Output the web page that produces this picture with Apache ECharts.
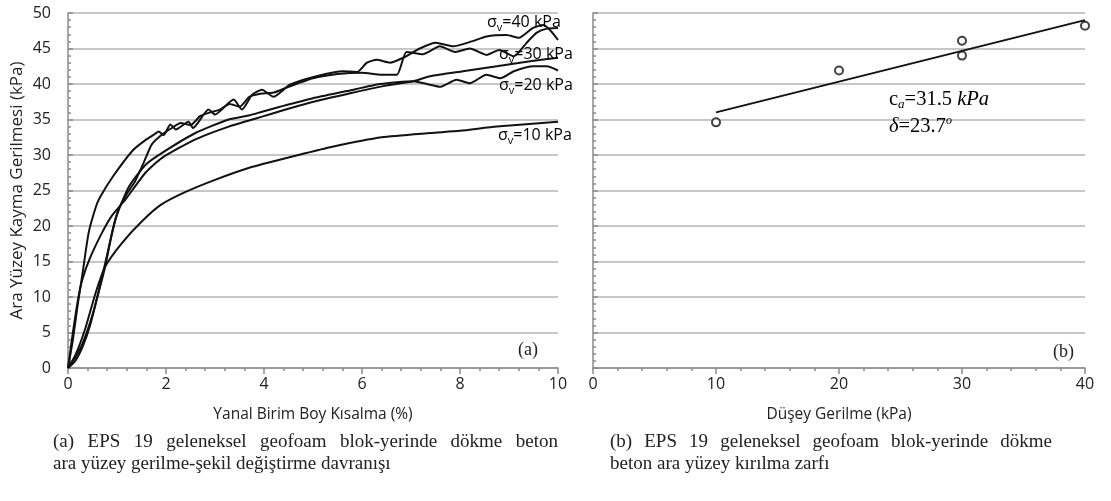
<!DOCTYPE html>
<html><head><meta charset="utf-8">
<script src="https://cdn.jsdelivr.net/npm/echarts@6/dist/echarts.min.js"></script>
<style>html,body{margin:0;padding:0;background:#fff}#c{width:1111px;height:501px}</style>
</head><body><div id="c"></div>
<script>
// ---- data ----
// (a) shear stress (kPa) vs lateral strain (%)
const curve10 = [[0,0],[0.15,1.8],[0.35,5.5],[0.56,10.5],[0.76,14.3],[1.1,17.6],[1.5,20.6],[1.9,23],[2.4,24.8],[3,26.5],[3.7,28.2],[4.3,29.3],[4.7,30],[5.35,31.1],[6.4,32.5],[7.4,33.1],[8,33.4],[8.75,34],[10,34.7]];
const curve20 = [[0,0],[0.15,1.5],[0.3,3.5],[0.5,7.5],[0.65,11.5],[0.8,16],[0.97,21],[1.24,25.5],[1.58,28.6],[1.92,30.3],[2.6,33.1],[3.28,35.0],[3.71,35.6],[3.96,36.1],[4.33,36.8],[5.0,38.0],[5.69,39.0],[6.37,40.0],[7.05,40.4],[7.39,39.9],[7.59,39.6],[7.93,40.6],[8.2,40.1],[8.54,41.3],[8.82,40.8],[9.1,41.8],[9.5,42.5],[9.77,42.5],[10,41.9]];
const curve30a = [[0,0],[0.1,5],[0.2,9.5],[0.29,12.4],[0.45,15.5],[0.69,19],[0.9,21.5],[1.17,23.7],[1.58,27.5],[1.92,29.6],[2.6,32.2],[3.28,34.0],[3.71,34.9],[3.96,35.4],[4.39,36.3],[5.07,37.6],[5.76,38.7],[6.43,39.7],[7.05,40.4],[7.39,41.1],[8.06,41.8],[8.75,42.5],[9.43,43.2],[10,43.7]];
const curve30b = [[0,0],[0.15,1],[0.3,3],[0.45,6],[0.6,10],[0.75,14],[0.9,19],[1.03,22.3],[1.2,24.5],[1.37,26.3],[1.55,29],[1.71,31.5],[1.92,32.9],[2.12,33.8],[2.3,34.5],[2.5,34.2],[2.7,35.5],[2.9,36.0],[3.1,36.4],[3.3,37.2],[3.5,36.8],[3.7,38.2],[3.9,38.6],[4.2,38.8],[4.5,39.6],[5.0,40.8],[5.5,41.4],[6.0,41.6],[6.4,41.3],[6.71,41.3],[6.91,44.5],[7.25,44.2],[7.59,45.3],[7.9,44.5],[8.2,45.0],[8.54,44.1],[8.8,44.8],[9.1,43.9],[9.36,45.8],[9.56,47.2],[9.77,47.8],[10,47.9]];
const curve40 = [[0,0],[0.1,4],[0.2,9],[0.29,13],[0.42,19],[0.56,22.5],[0.65,24],[0.92,27],[1.33,30.7],[1.6,32.2],[1.78,33],[1.85,33.3],[1.95,32.8],[2.09,34.3],[2.2,33.6],[2.46,34.7],[2.55,33.8],[2.87,36.4],[3.0,35.7],[3.38,37.8],[3.55,36.4],[3.76,38.5],[3.96,39.2],[4.19,38.2],[4.53,39.9],[5.07,41.1],[5.62,41.8],[5.9,41.7],[6.1,43.0],[6.3,43.4],[6.57,43.0],[6.84,43.7],[7.18,45.0],[7.5,45.8],[7.86,45.3],[8.24,46.0],[8.54,46.7],[8.95,46.9],[9.2,46.5],[9.49,47.9],[9.7,48.3],[9.85,47.5],[10,46.2]];
// (b) failure envelope
const envStress = [10, 20, 30, 30, 40];
const envShear  = [34.6, 41.9, 44.0, 46.1, 48.2];
const fitLine = [[10, 36.0], [40, 49.0]];
const curveLabels = ['σv=40 kPa','σv=30 kPa','σv=20 kPa','σv=10 kPa'];
const captionA = ['(a) EPS 19 geleneksel geofoam blok-yerinde dökme beton', 'ara yüzey gerilme-şekil değiştirme davranışı'];
const captionB = ['(b) EPS 19 geleneksel geofoam blok-yerinde dökme', 'beton ara yüzey kırılma zarfı'];

const SANS = 'Open Sans';
const SERIF = 'Liberation Serif';
const CAP_SIZE = 19;
const chart = echarts.init(document.getElementById('c'), null, {renderer:'canvas'});

const lineSeries = (d) => ({type:'line', xAxisIndex:0, yAxisIndex:0, data:d, showSymbol:false, smooth:0.2,
  lineStyle:{color:'#111', width:2}, silent:true});

const axisCommon = {
  axisLine:{show:true, lineStyle:{color:'#8a8a8a', width:1.5}},
  axisLabel:{color:'#222', fontFamily:SANS, fontSize:16},
  nameTextStyle:{color:'#222', fontFamily:SANS, fontSize:15.5}
};

function sig(str){ return '{s|σ}{v|v}{s|' + str.slice(2) + '}'; }
const sigRich = {
  s:{fontFamily:SANS, fontSize:16, color:'#222', lineHeight:22, verticalAlign:'middle'},
  v:{fontFamily:SANS, fontSize:11, color:'#222', lineHeight:12, verticalAlign:'bottom'}
};
const labelPos = [[487,14],[499,46],[499,77],[498,127]];

// justified caption lines
const mctx = document.createElement('canvas').getContext('2d');
mctx.font = CAP_SIZE + 'px "' + SERIF + '"';
function justified(text, x0, x1, top){
  const words = text.split(' ');
  const widths = words.map(w => mctx.measureText(w).width);
  const total = widths.reduce((a,b)=>a+b,0);
  const gap = (x1 - x0 - total) / (words.length - 1);
  let x = x0; const out = [];
  words.forEach((w,i)=>{ out.push({type:'text', left:x, top:top, style:{text:w, fontFamily:SERIF, fontSize:CAP_SIZE, fill:'#222'}}); x += widths[i] + gap; });
  return out;
}
function plain(text, x0, top){
  return {type:'text', left:x0, top:top, style:{text:text, fontFamily:SERIF, fontSize:CAP_SIZE, fill:'#222'}};
}

chart.setOption({
  animation:false,
  grid:[
    {left:68, right:553, top:13, bottom:133},
    {left:593, right:26, top:13, bottom:133}
  ],
  xAxis:[
    Object.assign({}, axisCommon, {type:'value', gridIndex:0, min:0, max:10, interval:2,
      splitLine:{show:false},
      axisTick:{length:6, lineStyle:{color:'#8a8a8a', width:1.5}},
      minorTick:{show:true, splitNumber:5, length:3, lineStyle:{color:'#8a8a8a', width:1.5}},
      axisLabel:Object.assign({}, axisCommon.axisLabel, {margin:8}),
      name:'Yanal Birim Boy Kısalma (%)', nameLocation:'middle', nameGap:39}),
    Object.assign({}, axisCommon, {type:'value', gridIndex:1, min:0, max:40, interval:10,
      splitLine:{show:false},
      axisTick:{length:6, lineStyle:{color:'#8a8a8a', width:1.5}},
      minorTick:{show:true, splitNumber:5, length:3, lineStyle:{color:'#8a8a8a', width:1.5}},
      axisLabel:Object.assign({}, axisCommon.axisLabel, {margin:8}),
      name:'Düşey Gerilme (kPa)', nameLocation:'middle', nameGap:39})
  ],
  yAxis:[
    Object.assign({}, axisCommon, {type:'value', gridIndex:0, min:0, max:50, interval:5,
      splitLine:{show:true, lineStyle:{color:'#b4b4b4', width:1.5}},
      axisTick:{inside:true, length:5, lineStyle:{color:'#8a8a8a', width:1.5}},
      minorTick:{show:true, splitNumber:5, length:3, lineStyle:{color:'#8a8a8a', width:1.5}},
      axisLabel:Object.assign({}, axisCommon.axisLabel, {margin:17}),
      name:'Ara Yüzey Kayma Gerilmesi (kPa)', nameLocation:'middle', nameGap:42, nameRotate:90,
      nameTextStyle:{color:'#222', fontFamily:SANS, fontSize:17}}),
    Object.assign({}, axisCommon, {type:'value', gridIndex:1, min:0, max:50, interval:5,
      splitLine:{show:true, lineStyle:{color:'#b4b4b4', width:1.5}},
      axisTick:{inside:true, length:5, lineStyle:{color:'#8a8a8a', width:1.5}},
      minorTick:{show:true, splitNumber:5, length:3, lineStyle:{color:'#8a8a8a', width:1.5}},
      axisLabel:{show:false}})
  ],
  series:[
    lineSeries(curve10), lineSeries(curve20), lineSeries(curve30a), lineSeries(curve30b), lineSeries(curve40),
    {type:'line', xAxisIndex:1, yAxisIndex:1, data:fitLine, showSymbol:false, lineStyle:{color:'#111', width:2}, silent:true},
    {type:'scatter', xAxisIndex:1, yAxisIndex:1, data:envStress.map((s,i)=>[s, envShear[i]]),
      symbol:'circle', symbolSize:8, itemStyle:{color:'#fff', borderColor:'#111', borderWidth:2}, silent:true}
  ],
  graphic:[
    ...curveLabels.map((t,i)=>({type:'text', left:labelPos[i][0], top:labelPos[i][1], z:100,
      style:{text:sig(t), rich:sigRich}})),
    {type:'text', left:889, top:89, z:100, style:{text:'{c|c}{a|a}{c|=31.5 }{i|kPa}',
      rich:{c:{fontFamily:SERIF, fontSize:20.5, color:'#222', lineHeight:24},
            a:{fontFamily:SERIF, fontStyle:'italic', fontSize:13, color:'#222', lineHeight:13, verticalAlign:'bottom'},
            i:{fontFamily:SERIF, fontStyle:'italic', fontSize:20.5, color:'#222', lineHeight:24}}}},
    {type:'text', left:889, top:115, z:100, style:{text:'{i|δ}{c|=23.7}{o|o}',
      rich:{c:{fontFamily:SERIF, fontSize:20.5, color:'#222', lineHeight:24},
            o:{fontFamily:SERIF, fontStyle:'italic', fontSize:12, color:'#222', lineHeight:14, verticalAlign:'top'},
            i:{fontFamily:SERIF, fontStyle:'italic', fontSize:20.5, color:'#222', lineHeight:24}}}},
    {type:'text', left:518, top:341, style:{text:'(a)', fontFamily:SERIF, fontSize:18, fill:'#222'}},
    {type:'text', left:1053, top:343, style:{text:'(b)', fontFamily:SERIF, fontSize:18, fill:'#222'}},
    ...justified(captionA[0], 53, 558, 433),
    plain(captionA[1], 53, 455),
    ...justified(captionB[0], 610, 1052, 433),
    plain(captionB[1], 610, 455)
  ]
});
</script></body></html>
